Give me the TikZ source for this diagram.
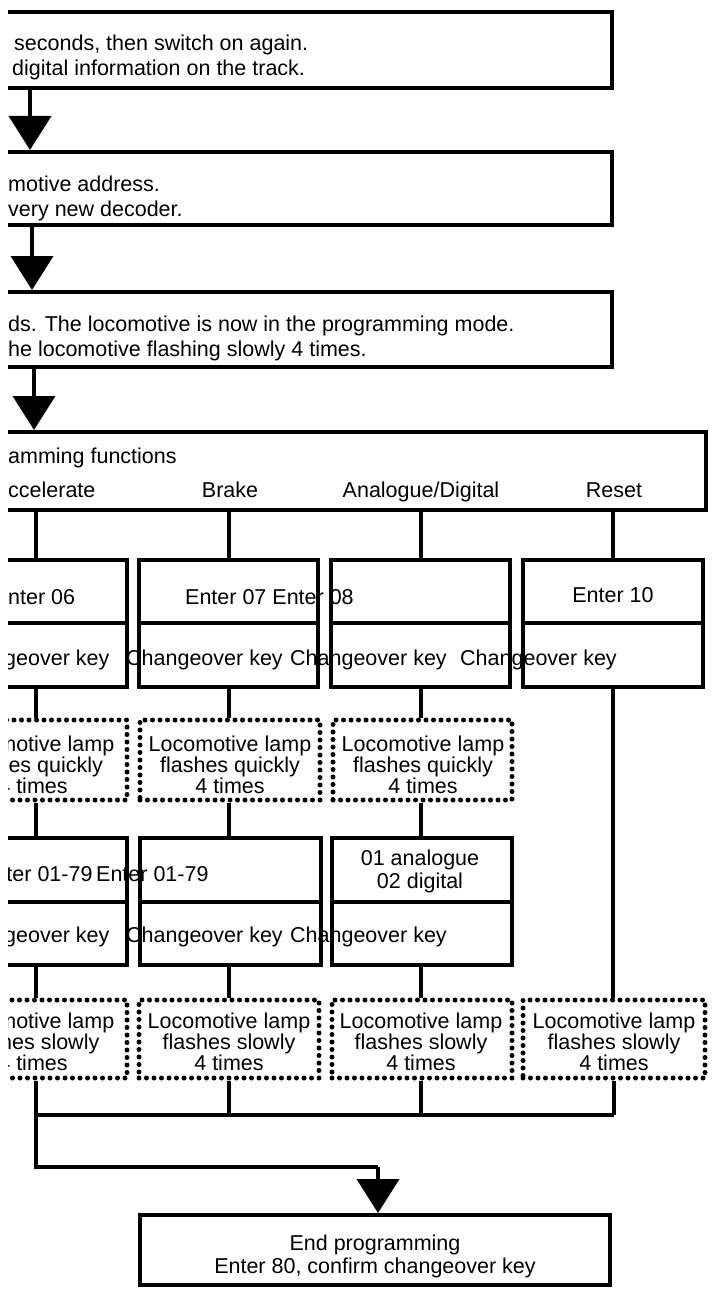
\documentclass[tikz,border=0pt]{standalone}
\usepackage{fontspec}
\setmainfont{Liberation Sans}
\usetikzlibrary{arrows.meta}
\begin{document}
\begin{tikzpicture}[x=1pt,y=-1pt,
  box/.style={draw,line width=4pt,inner sep=0pt,rectangle},
  dbox/.style={draw,line width=5pt,dash pattern=on 0pt off 7.5pt,line cap=round,inner sep=0pt,rectangle},
  line/.style={line width=4pt},
  arr/.style={line width=4pt,-{Triangle[width=42pt,length=34pt]}},
  t/.style={font=\fontsize{21.5}{22}\selectfont,inner sep=0pt,anchor=base west},
  tc/.style={font=\fontsize{21.5}{21}\selectfont,inner sep=0pt,anchor=center,align=center}]
\useasboundingbox (0,0) rectangle (712,1303);
\begin{scope}
\clip (8,0) rectangle (712,1303);
% main boxes
\node[box,minimum width=812pt,minimum height=76pt] (b1) at (206,50) {};
\node[box,minimum width=812pt,minimum height=73pt] (b2) at (206,188.5) {};
\node[box,minimum width=812pt,minimum height=75pt] (b3) at (206,329.5) {};
\node[box,minimum width=906pt,minimum height=78pt] (b4) at (253,471) {};
\node[t] (t1a) at (14,51) {seconds, then switch on again.};
\node[t] (t1b) at (12,76) {digital information on the track.};
\node[t] (t2a) at (8,191) {motive address.};
\node[t] (t2b) at (8,216) {very new decoder.};
\node[t] (t3a) at (8,331) {ds. The locomotive is now in the programming mode.};
\node[t] (t3b) at (8,356) {he locomotive flashing slowly 4 times.};
\node[t] (t4a) at (8,463) {amming functions};
\node[t] (t4b) at (8,497) {ccelerate};
\node[tc,anchor=base] (t4c) at (230,497) {Brake};
\node[tc,anchor=base] (t4d) at (421,497) {Analogue/Digital};
\node[tc,anchor=base] (t4e) at (614,497) {Reset};
\coordinate (a1) at (30,88); \coordinate (a2) at (32,225); \coordinate (a3) at (34,367);
\draw[arr] (a1) -- (a1 |- b2.north);
\draw[arr] (a2) -- (a2 |- b3.north);
\draw[arr] (a3) -- (a3 |- b4.north);
% column row 1
\node[box,minimum width=182pt,minimum height=63pt] (c1a) at (36,591.5) {};
\node[box,minimum width=182pt,minimum height=64pt] (c1b) at (36,655) {};
\node[box,minimum width=179pt,minimum height=63pt] (c2a) at (228.5,591.5) {};
\node[box,minimum width=179pt,minimum height=64pt] (c2b) at (228.5,655) {};
\node[box,minimum width=179pt,minimum height=63pt] (c3a) at (420.5,591.5) {};
\node[box,minimum width=179pt,minimum height=64pt] (c3b) at (420.5,655) {};
\node[box,minimum width=180pt,minimum height=63pt] (c4a) at (613,591.5) {};
\node[box,minimum width=180pt,minimum height=64pt] (c4b) at (613,655) {};
\node[t] at (8,604) {nter 06};
\node[t] at (185,604) {Enter 07 Enter 08};
\node[tc,anchor=base] at (613,602) {Enter 10};
\node[t] at (4,665) {geover key};
\node[t] at (126,665) {Changeover key};
\node[t] at (290,665) {Changeover key};
\node[t] at (460,665) {Changeover key};
% dotted row 1
\node[dbox,minimum width=182pt,minimum height=80pt] (d1) at (36,760) {};
\node[dbox,minimum width=180pt,minimum height=80pt] (d2) at (230,760) {};
\node[dbox,minimum width=179pt,minimum height=80pt] (d3) at (422.5,760) {};
\node[tc] at (33,765) {Locomotive lamp\\flashes quickly\\4 times};
\node[tc] at (230,765) {Locomotive lamp\\flashes quickly\\4 times};
\node[tc] at (423,765) {Locomotive lamp\\flashes quickly\\4 times};
% column row 2
\node[box,minimum width=182pt,minimum height=64pt] (e1a) at (36,870) {};
\node[box,minimum width=182pt,minimum height=63pt] (e1b) at (36,933.5) {};
\node[box,minimum width=181pt,minimum height=64pt] (e2a) at (230.5,870) {};
\node[box,minimum width=181pt,minimum height=63pt] (e2b) at (230.5,933.5) {};
\node[box,minimum width=180pt,minimum height=64pt] (e3a) at (422,870) {};
\node[box,minimum width=180pt,minimum height=63pt] (e3b) at (422,933.5) {};
\node[t] at (-20,881) {Enter 01-79};
\node[t] at (96,881) {Enter 01-79};
\node[tc] at (420,871) {01 analogue\\[2pt]02 digital};
\node[t] at (4,942) {geover key};
\node[t] at (126,942) {Changeover key};
\node[t] at (290,942) {Changeover key};
% dotted row 2
\node[dbox,minimum width=182pt,minimum height=78pt] (f1) at (36,1039) {};
\node[dbox,minimum width=180pt,minimum height=78pt] (f2) at (229,1039) {};
\node[dbox,minimum width=180pt,minimum height=78pt] (f3) at (422,1039) {};
\node[dbox,minimum width=182pt,minimum height=78pt] (f4) at (614,1039) {};
\node[tc] at (33,1042) {Locomotive lamp\\flashes slowly\\4 times};
\node[tc] at (229,1042) {Locomotive lamp\\flashes slowly\\4 times};
\node[tc] at (421,1042) {Locomotive lamp\\flashes slowly\\4 times};
\node[tc] at (614,1042) {Locomotive lamp\\flashes slowly\\4 times};
% end box
\node[box,minimum width=470pt,minimum height=70pt] (g) at (375,1250) {};
\node[tc] at (375,1256) {End programming\\[2pt]Enter 80, confirm changeover key};
% connectors
\draw[line] (b4.south -| c1a) -- (c1a.north);
\draw[line] (b4.south -| c2a) -- (c2a.north);
\draw[line] (b4.south -| c3a) -- (c3a.north);
\draw[line] (b4.south -| c4a) -- (c4a.north);
\draw[line] (c1b.south) -- (d1.north);
\draw[line] (c2b.south) -- (d2.north -| c2b);
\draw[line] (c3b.south) -- (d3.north -| c3b);
\draw[line] (c4b.south) -- (f4.north -| c4b);
\draw[line] (d1.south) -- (e1a.north);
\draw[line] (d2.south -| c2b) -- (e2a.north -| c2b);
\draw[line] (d3.south -| c3b) -- (e3a.north -| c3b);
\draw[line] (e1b.south) -- (f1.north);
\draw[line] (e2b.south -| c2b) -- (f2.north -| c2b);
\draw[line] (e3b.south -| c3b) -- (f3.north -| c3b);
\coordinate (h1) at (36,1115);
\coordinate (h4) at (614,1115);
\coordinate (k) at (36,1167);
\coordinate (k2) at (378,1167);
\draw[line] (h1) -- (h4);
\draw[line] (f2.south -| c2b) -- (h1 -| c2b);
\draw[line] (f3.south -| c3b) -- (h1 -| c3b);
\draw[line] (f4.south) -- (h4);
\draw[line] (f1.south) -- (k) -- (k2);
\draw[arr] (k2) -- (k2 |- g.north);
\end{scope}
\end{tikzpicture}
\end{document}
